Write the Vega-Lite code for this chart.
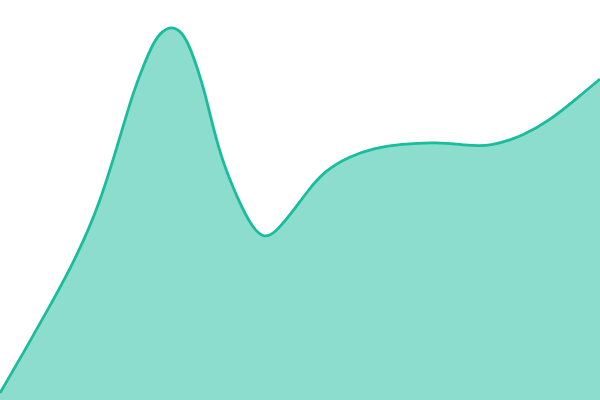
{
  "$schema": "https://vega.github.io/schema/vega-lite/v6.json",
  "width": 600,
  "height": 400,
  "padding": 0,
  "autosize": "none",
  "background": "#ffffff",
  "data": {
    "values": [
      {"x": 0, "y": 7},
      {"x": 25, "y": 50},
      {"x": 50, "y": 94},
      {"x": 75, "y": 140},
      {"x": 100, "y": 196},
      {"x": 122, "y": 270},
      {"x": 133, "y": 307},
      {"x": 143, "y": 333},
      {"x": 153, "y": 357},
      {"x": 162, "y": 369},
      {"x": 172, "y": 374},
      {"x": 182, "y": 368},
      {"x": 190, "y": 353},
      {"x": 198, "y": 330},
      {"x": 205, "y": 307},
      {"x": 213, "y": 273},
      {"x": 223, "y": 237},
      {"x": 237, "y": 203},
      {"x": 250, "y": 176},
      {"x": 263, "y": 161},
      {"x": 275, "y": 167},
      {"x": 290, "y": 185},
      {"x": 307, "y": 208},
      {"x": 323, "y": 228},
      {"x": 350, "y": 244},
      {"x": 375, "y": 252},
      {"x": 400, "y": 256},
      {"x": 437, "y": 258},
      {"x": 465, "y": 255},
      {"x": 490, "y": 253},
      {"x": 525, "y": 265},
      {"x": 550, "y": 280},
      {"x": 575, "y": 300},
      {"x": 600, "y": 321}
    ]
  },
  "encoding": {
    "x": {"field": "x", "type": "quantitative", "scale": {"domain": [0, 600], "nice": false, "zero": false}, "axis": null},
    "y": {"field": "y", "type": "quantitative", "scale": {"domain": [0, 400], "nice": false}, "axis": null}
  },
  "layer": [
    {
      "mark": {"type": "area", "interpolate": "basis", "color": "#1abc9c", "opacity": 0.5}
    },
    {
      "mark": {"type": "line", "interpolate": "basis", "color": "#1abc9c", "strokeWidth": 2.8}
    }
  ],
  "config": {
    "view": {"stroke": null}
  }
}
